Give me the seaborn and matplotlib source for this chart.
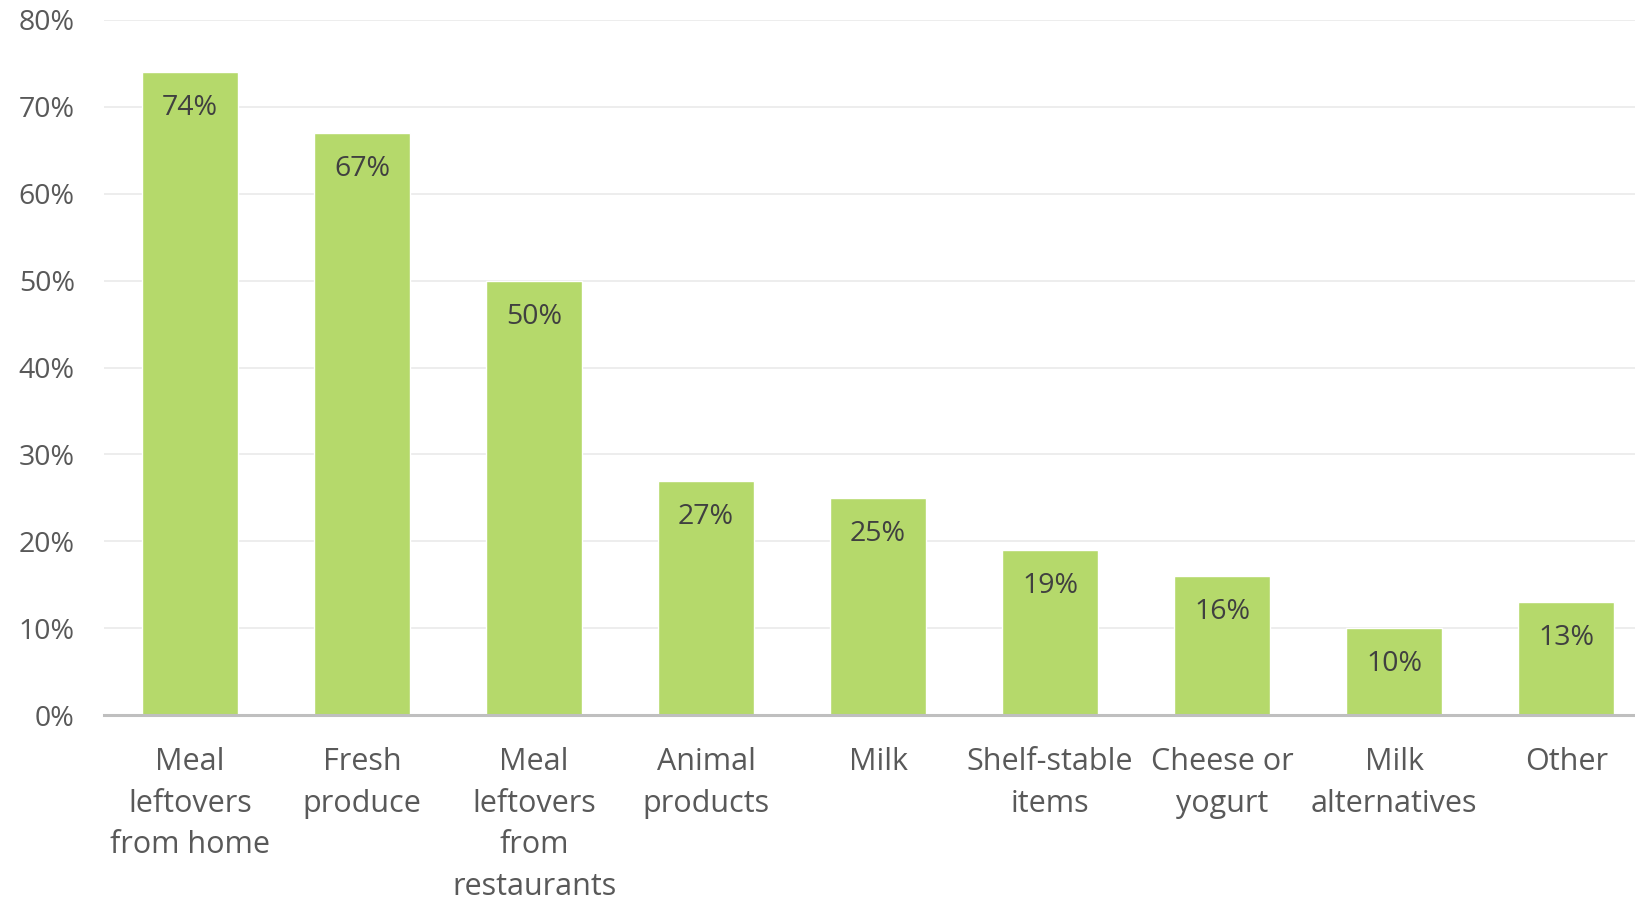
import seaborn as sns
import matplotlib.pyplot as plt
import pandas as pd
from matplotlib.ticker import PercentFormatter

# data
categories = ['Meal\nleftovers\nfrom home', 'Fresh\nproduce', 'Meal\nleftovers\nfrom\nrestaurants',
              'Animal\nproducts', 'Milk', 'Shelf-stable\nitems', 'Cheese or\nyogurt',
              'Milk\nalternatives', 'Other']
values = [74, 67, 50, 27, 25, 19, 16, 10, 13]
yticks = [0, 10, 20, 30, 40, 50, 60, 70, 80]

sns.set_theme(style='white')
plt.rcParams['font.family'] = ['Open Sans', 'DejaVu Sans']

df = pd.DataFrame({'cat': categories, 'val': values})

fig = plt.figure(figsize=(16.35, 9.02), dpi=100)
ax = fig.add_axes([0.0636, 0.207, 0.9364, 0.771])

# gridlines first
ax.set_axisbelow(True)
ax.yaxis.grid(True, color='#ececec', linewidth=1.3)

sns.barplot(data=df, x='cat', y='val', color='#b5d96b', saturation=1, width=0.56, ax=ax)

ax.set_ylim(0, 80)
ax.set_xlim(-0.5, len(categories) - 0.6)
ax.set_yticks(yticks)
ax.yaxis.set_major_formatter(PercentFormatter(decimals=0))
ax.set_xlabel('')
ax.set_ylabel('')

for s in ['top', 'right', 'left']:
    ax.spines[s].set_visible(False)
ax.spines['bottom'].set_color('#bfbfbf')
ax.spines['bottom'].set_linewidth(2.2)

ax.tick_params(axis='y', labelsize=20.5, colors='#595959', length=0, pad=21)
ax.tick_params(axis='x', labelsize=22, colors='#595959', length=0, pad=23)
for lbl in ax.get_xticklabels():
    lbl.set_linespacing(1.5)

# data labels inside top of bars
for i, v in enumerate(values):
    ax.annotate(f'{v}%', (i, v), xytext=(0, -26), textcoords='offset points',
                ha='center', va='center', fontsize=20.5, color='#404040')

fig.savefig('out.png', dpi=100)
